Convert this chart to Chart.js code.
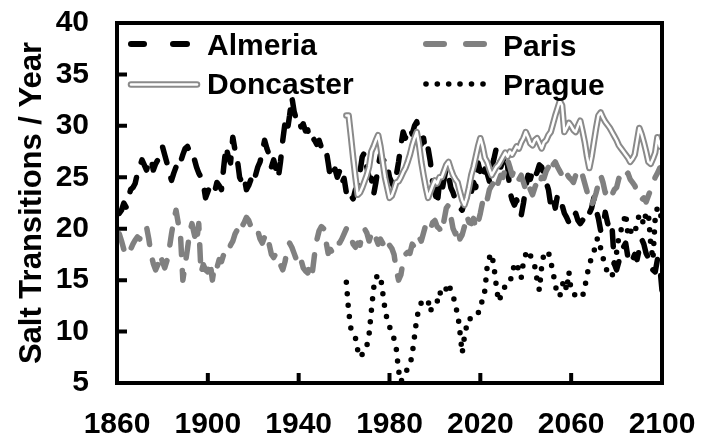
<!DOCTYPE html>
<html><head><meta charset="utf-8">
<script src="https://cdn.jsdelivr.net/npm/chart.js@4.4.1/dist/chart.umd.min.js"></script>
<style>html,body{margin:0;padding:0;background:#fff;}canvas{display:block;}</style>
</head><body>
<canvas id="c" width="707" height="440"></canvas>
<script>
const seriesNames = ['Almeria', 'Paris', 'Doncaster', 'Prague'];
const yTitle = 'Salt Transitions / Year';
const xTicks = [1860, 1900, 1940, 1980, 2020, 2060, 2100];
const yTicks = [5, 10, 15, 20, 25, 30, 35, 40];

const almeriaStart = 1861;
const almeria = [
  21.5,21.8,22.5,22.1,23.0,23.8,24.0,24.4,25.4,26.0,
  26.7,26.2,25.7,26.5,26.8,25.7,26.3,26.7,27.5,28.0,
  27.2,26.4,25.5,24.7,25.4,26.0,25.7,26.5,27.2,27.8,
  28.0,27.5,27.6,26.8,26.0,25.4,25.0,24.4,23.0,23.6,
  24.2,24.0,23.6,24.5,24.2,23.8,26.0,28.0,27.0,26.4,
  28.9,27.6,26.7,25.0,24.5,25.0,23.8,24.2,24.8,25.7,
  25.2,26.0,26.5,27.5,28.6,27.8,27.2,26.0,26.7,25.8,
  24.9,26.5,28.6,30.3,29.5,31.0,32.8,31.4,30.6,30.8,
  29.9,30.2,29.5,29.6,28.6,28.9,28.6,28.2,28.6,27.9,
  27.6,27.8,26.4,24.9,25.5,25.8,25.0,25.6,24.4,24.9,
  23.5,22.8,23.2,22.9,23.8,24.0,25.5,27.0,27.4,26.0,
  25.0,24.9,23.3,24.5,26.0,27.2,26.5,26.8,26.2,25.0,
  24.5,24.0,25.2,26.5,28.1,29.4,28.8,29.5,29.8,29.2,
  30.0,30.4,29.4,28.2,28.8,27.4,27.8,26.5,24.5,23.6,
  22.3,24.5,23.5,24.8,25.9,25.2,24.0,23.5,22.8,22.3,
  22.0,21.8,22.6,23.0,24.0,23.5,24.5,24.0,26.4,25.5,
  24.8,25.8,25.4,24.6,26.0,26.8,27.8,27.2,26.0,26.6,
  27.4,26.2,23.6,22.8,22.3,22.8,21.9,21.3,22.5,24.0,
  25.2,24.8,25.6,25.0,25.5,26.2,26.0,25.2,24.5,23.8,
  22.3,23.0,22.0,23.3,23.0,22.3,21.5,21.1,20.6,20.4,
  21.0,21.5,20.8,20.5,20.8,21.3,21.0,21.5,22.0,23.0,
  21.8,21.0,19.8,20.0,21.6,20.6,19.8,20.2,16.6,16.0,
  16.8,17.5,18.2,18.6,17.2,17.6,17.0,17.5,17.0,18.0,
  19.0,18.5,17.6,17.2,17.1,16.0,15.8,17.0,16.5,14.0
];

const parisStart = 1861;
const paris = [
  19.5,18.8,18.0,18.2,17.6,18.0,18.5,18.9,19.2,19.0,
  19.6,20.0,20.2,19.0,17.5,16.6,16.0,16.5,17.5,16.8,
  16.2,16.9,18.0,19.5,20.8,21.8,20.5,19.2,15.0,16.5,
  18.0,19.6,20.5,19.5,18.6,20.5,15.7,16.5,16.0,15.8,
  16.8,15.0,16.5,16.2,17.0,16.8,17.5,18.0,17.8,18.4,
  18.8,19.5,19.9,19.5,20.2,20.6,21.1,20.8,20.2,20.0,
  19.6,19.8,19.0,18.6,19.2,18.2,18.5,17.5,17.2,17.6,
  16.8,16.5,16.0,16.8,18.0,18.6,18.2,17.6,17.0,16.5,
  17.0,16.2,15.9,15.7,16.5,15.7,17.5,18.9,19.8,20.2,
  20.0,18.8,17.6,18.0,17.6,18.2,18.6,18.6,19.0,19.5,
  20.0,19.9,19.2,18.5,18.2,18.6,18.4,19.5,20.0,19.6,
  18.8,19.5,19.8,19.1,18.5,19.0,18.6,18.0,17.8,18.4,
  18.1,17.5,16.0,15.0,15.5,16.8,17.5,17.7,17.6,18.5,
  18.2,19.0,19.2,18.8,19.6,20.4,20.4,19.9,20.6,20.8,
  20.2,20.0,19.6,20.8,22.0,22.3,21.2,20.0,19.5,20.2,
  19.0,19.4,20.2,21.3,20.6,20.5,21.0,20.0,20.6,21.5,
  22.6,23.3,22.8,23.8,24.2,24.5,23.8,24.6,25.2,25.0,
  25.9,26.7,26.0,25.2,25.8,25.5,24.8,25.2,24.5,23.8,
  24.4,23.8,23.3,24.0,24.6,24.2,25.0,24.9,25.6,26.0,
  25.4,26.2,26.5,26.0,25.6,25.2,25.8,25.4,25.0,24.8,
  24.5,25.2,24.6,25.0,25.2,24.4,23.6,23.0,22.3,22.8,
  23.5,24.4,25.2,24.5,23.5,24.0,23.6,23.3,23.8,24.0,
  24.9,24.5,25.0,25.2,25.4,24.8,24.5,24.2,23.6,23.3,
  22.8,23.0,22.6,23.2,23.8,24.4,25.0,25.4,25.9,26.0
];

const doncasterStart = 1961;
const doncaster = [
  31.0,31.0,29.0,26.9,25.0,23.3,23.5,24.0,24.6,25.2,
  26.0,27.5,28.0,28.6,29.1,28.0,26.5,25.0,24.0,23.0,
  23.2,23.8,24.5,24.6,25.0,25.5,25.9,26.5,27.2,28.1,
  28.8,29.4,28.2,26.5,25.2,24.0,23.0,23.6,24.2,24.7,
  24.4,25.0,25.0,25.6,26.2,26.5,25.8,25.2,24.8,24.5,
  23.6,22.8,22.3,23.0,24.0,25.2,26.0,27.0,28.0,28.8,
  28.0,26.9,26.5,25.8,25.2,25.6,26.0,26.2,26.6,27.0,
  27.4,27.0,27.5,27.2,27.6,28.0,27.8,28.4,28.8,29.4,
  28.9,28.3,28.1,28.6,28.8,28.3,27.8,28.4,28.6,29.1,
  29.4,30.2,31.0,31.7,32.4,32.0,29.4,29.8,30.3,30.0,
  29.6,29.4,30.0,30.5,29.5,28.4,27.0,25.9,27.0,28.4,
  29.8,31.0,31.3,30.8,30.4,30.1,29.8,29.4,29.0,28.6,
  28.1,27.8,27.5,27.2,26.9,26.5,26.8,27.2,28.5,29.8,
  29.2,28.4,27.5,26.5,26.3,26.8,27.4,28.9,28.0,29.0
];

const pragueStart = 1961;
const prague = [
  14.8,12.0,10.3,9.8,9.4,8.2,7.5,7.8,8.4,8.6,
  9.7,12.0,14.2,15.3,15.4,15.5,13.8,12.2,11.1,10.5,
  9.8,9.3,8.3,6.2,5.1,5.6,6.0,6.4,6.7,7.8,
  9.5,11.3,12.2,12.8,13.1,13.0,13.0,11.9,12.6,12.8,
  12.9,13.9,13.5,13.6,14.2,14.7,14.0,13.6,12.4,11.8,
  10.0,7.9,9.5,10.6,11.3,11.2,11.4,11.6,11.7,12.8,
  12.9,14.0,16.3,17.2,17.6,16.3,14.5,12.9,13.4,13.9,
  14.5,14.6,14.7,15.7,16.5,16.7,15.8,15.2,16.8,17.5,
  17.9,17.4,17.0,16.3,15.0,14.0,16.3,17.6,17.8,17.7,
  16.8,15.8,14.5,13.6,13.4,14.5,15.0,14.0,15.8,13.9,
  13.7,13.5,13.3,13.3,13.4,14.3,15.5,16.5,17.2,17.7,
  18.9,19.1,18.1,17.2,16.3,15.8,15.5,15.3,16.7,17.7,
  19.2,19.9,20.6,21.5,19.4,19.9,19.4,19.6,20.5,21.4,
  21.0,20.4,21.6,21.5,18.6,17.0,21.0,22.1,21.5,21.0
];

function toPoints(start, vals) { return vals.map((v, i) => ({ x: start + i, y: v })); }

const FONT = '"Liberation Sans", Arial, Helvetica, sans-serif';
const BLACK = '#000000';
const GREY = '#808080';
const GREY2 = '#8a8a8a';

const framePlugin = {
  id: 'frame',
  afterDatasetsDraw(chart) {
    const { ctx, chartArea: a, scales: { x, y } } = chart;
    ctx.save();
    ctx.strokeStyle = BLACK; ctx.lineWidth = 4; ctx.lineCap = 'butt';
    ctx.beginPath();
    yTicks.forEach(v => { if (v === y.min || v === y.max) return; const py = y.getPixelForValue(v); ctx.moveTo(a.left, py); ctx.lineTo(a.left + 10, py); });
    xTicks.forEach(v => { if (v === x.min || v === x.max) return; const px = x.getPixelForValue(v); ctx.moveTo(px, a.bottom); ctx.lineTo(px, a.bottom - 10); });
    ctx.stroke();
    ctx.lineJoin = 'miter';
    ctx.strokeRect(a.left, a.top, a.right - a.left, a.bottom - a.top);

    // legend
    const seg = (x1, y1, x2, y2) => { ctx.beginPath(); ctx.moveTo(x1, y1); ctx.lineTo(x2, y2); ctx.stroke(); };
    ctx.font = 'bold 30px ' + FONT; ctx.fillStyle = BLACK; ctx.textAlign = 'left'; ctx.textBaseline = 'alphabetic';
    ctx.lineCap = 'round'; ctx.lineWidth = 6;
    ctx.strokeStyle = BLACK; seg(131, 44, 144, 44); seg(173, 44, 187, 44);
    ctx.fillText(seriesNames[0], 207, 55);
    ctx.strokeStyle = GREY; seg(426, 44, 444, 44); seg(466, 44, 484, 44);
    ctx.fillText(seriesNames[1], 503, 56);
    ctx.strokeStyle = GREY2; ctx.lineWidth = 6.5; seg(131, 84.5, 197, 84.5);
    ctx.strokeStyle = '#ffffff'; ctx.lineWidth = 2.5; seg(131, 84.5, 197, 84.5);
    ctx.fillText(seriesNames[2], 207, 94);
    ctx.fillStyle = BLACK;
    [426, 437.3, 448.7, 460, 471.5, 483].forEach(px => { ctx.beginPath(); ctx.arc(px, 84, 2.8, 0, Math.PI * 2); ctx.fill(); });
    ctx.fillText(seriesNames[3], 503, 95);
    ctx.restore();
  }
};

const tickFont = { family: FONT, size: 30, weight: 'bold' };
const titleFont = { family: FONT, size: 31, weight: 'bold' };
const common = { pointRadius: 0, pointHoverRadius: 0, fill: false, tension: 0, borderJoinStyle: 'round' };

new Chart(document.getElementById('c'), {
  type: 'line',
  data: {
    datasets: [
      Object.assign({ label: seriesNames[0], data: toPoints(almeriaStart, almeria), borderColor: BLACK, borderWidth: 5.5, borderDash: [16, 16], borderCapStyle: 'round', order: 4 }, common),
      Object.assign({ label: seriesNames[1], data: toPoints(parisStart, paris), borderColor: GREY, borderWidth: 5.5, borderDash: [16, 16], borderCapStyle: 'round', order: 3 }, common),
      Object.assign({ label: seriesNames[2], data: toPoints(doncasterStart, doncaster), borderColor: GREY2, borderWidth: 6.5, borderCapStyle: 'round', order: 2 }, common),
      Object.assign({ label: seriesNames[2] + ' inner', data: toPoints(doncasterStart, doncaster), borderColor: '#ffffff', borderWidth: 2.5, borderCapStyle: 'round', order: 1 }, common),
      Object.assign({ label: seriesNames[3], data: toPoints(pragueStart, prague), borderColor: BLACK, borderWidth: 5.5, borderDash: [0, 11.5], borderCapStyle: 'round', order: 0 }, common)
    ]
  },
  options: {
    responsive: false,
    animation: false,
    events: [],
    layout: { autoPadding: false, padding: { top: 23, right: 45, left: 0, bottom: 0 } },
    plugins: { legend: { display: false }, tooltip: { enabled: false } },
    scales: {
      x: {
        type: 'linear', min: 1860, max: 2100,
        afterBuildTicks: s => { s.ticks = xTicks.map(v => ({ value: v })); },
        afterFit: s => { s.height = 57; s.paddingLeft = 0; s.paddingRight = 0; s.paddingTop = 0; s.paddingBottom = 0; },
        grid: { display: false, drawTicks: false },
        border: { display: false },
        ticks: { color: BLACK, font: tickFont, padding: 24, maxRotation: 0, autoSkip: false, callback: v => String(v) }
      },
      y: {
        type: 'linear', min: 5, max: 40,
        afterBuildTicks: s => { s.ticks = yTicks.map(v => ({ value: v })); },
        afterFit: s => { s.width = 117; s.paddingLeft = 0; s.paddingRight = 0; s.paddingTop = 0; s.paddingBottom = 0; },
        grid: { display: false, drawTicks: false },
        border: { display: false },
        ticks: { color: BLACK, font: tickFont, padding: 28, autoSkip: false, callback: v => String(v) },
        title: { display: true, text: yTitle, color: BLACK, font: titleFont, padding: { top: 14, bottom: 0 } }
      }
    }
  },
  plugins: [framePlugin]
});
</script>
</body></html>
